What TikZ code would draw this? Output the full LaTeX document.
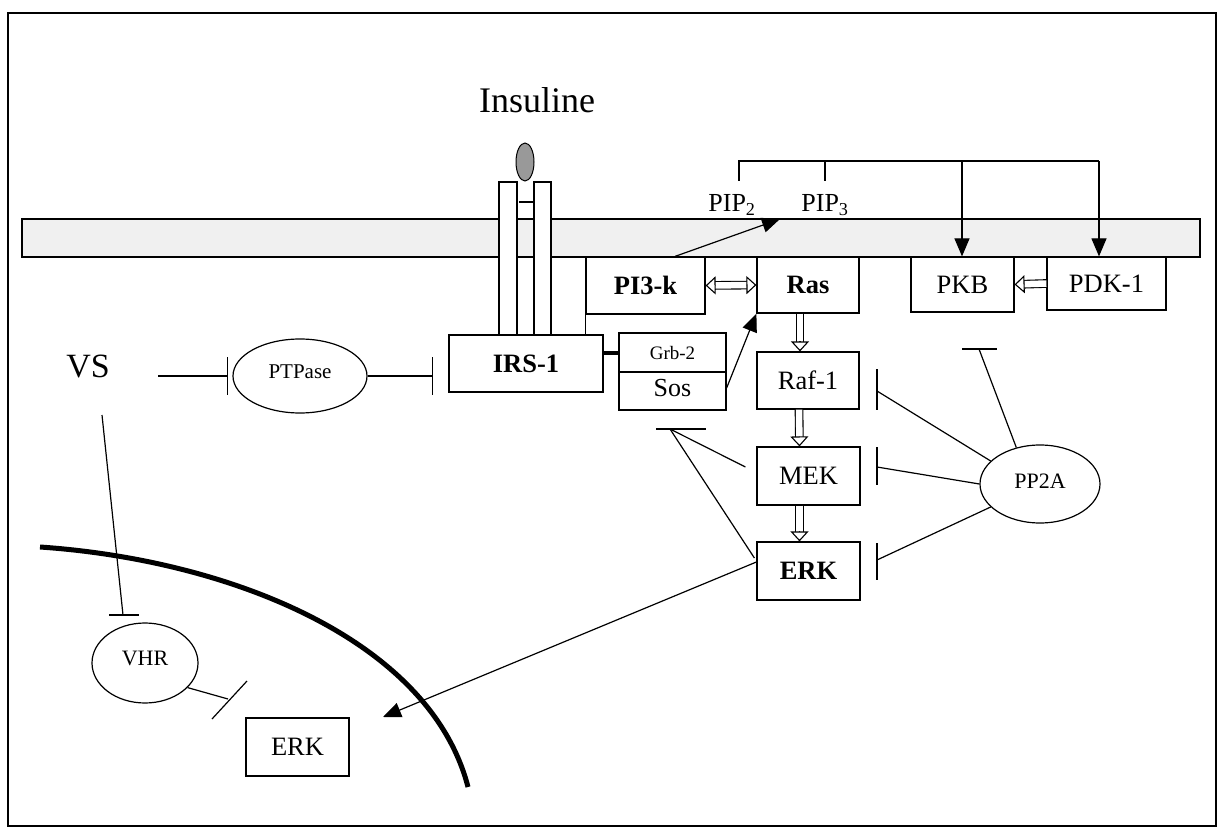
\documentclass[tikz,border=0pt]{standalone}
\usepackage{fontspec}
\setmainfont{Liberation Serif}
\usetikzlibrary{arrows.meta,shapes.geometric,calc}
\newcommand\holarr[2]{%
  \draw[line width=1.1pt, double distance=6.5pt, shorten >=9.5pt] (#1) -- (#2);
  \draw[line width=1.1pt, -{Triangle[length=10pt,width=18pt,fill=white]}] ($(#2)!10pt!(#1)$) -- (#2);}
\newcommand\holarrtwo[2]{%
  \draw[line width=1.1pt, double distance=6.5pt, shorten >=9.5pt, shorten <=9.5pt] (#1) -- (#2);
  \draw[line width=1.1pt, -{Triangle[length=10pt,width=18pt,fill=white]}] ($(#2)!10pt!(#1)$) -- (#2);
  \draw[line width=1.1pt, -{Triangle[length=10pt,width=18pt,fill=white]}] ($(#1)!10pt!(#2)$) -- (#1);}
\begin{document}
\begin{tikzpicture}[x=1pt,y=-1pt,
  box/.style={draw, line width=1.2pt, inner sep=0pt, font=\fontsize{26.5}{26.5}\selectfont},
  bbox/.style={box, font=\fontsize{26.5}{26.5}\selectfont\bfseries},
  oval/.style={draw, ellipse, line width=1.2pt, inner sep=0pt},
  ln/.style={line width=1.2pt},
  act/.style={line width=1.2pt, -{Triangle[length=18pt,width=15pt]}},
  tbar/.style={line width=1.2pt, -{Bar[width=38pt]}},
  lbl/.style={inner sep=0pt}]
\useasboundingbox (0,0) rectangle (1219,829);
% frame
\draw[line width=1.6pt] (8,13) rectangle (1216,826);
% membrane
\draw[line width=1.3pt, fill=black!6] (22,219) rectangle (1200,257);
% receptor
\draw[ln, fill=white] (499,182) rectangle (517,335);
\draw[ln, fill=white] (534,182) rectangle (551,335);
\draw[line width=1.4pt] (519,202) -- (533,202);
\node[draw, ellipse, fill=black!40, line width=1pt, minimum width=18pt, minimum height=38pt, inner sep=0pt] (ins) at (525,162) {};
\node[lbl, font=\fontsize{36}{36}\selectfont] (insl) at (537,100) {Insuline};
% boxes
\node[bbox, minimum width=154pt, minimum height=57pt] (irs) at (526,363.5) {IRS-1};
\node[bbox, minimum width=119pt, minimum height=57pt] (pi3) at (645.5,285.5) {PI3-k};
\node[bbox, minimum width=102pt, minimum height=56pt] (ras) at (808,285) {Ras};
\node[box, minimum width=102pt, minimum height=57pt] (raf) at (808,380.5) {Raf-1};
\node[box, minimum width=103pt, minimum height=58pt] (mek) at (808.5,476) {MEK};
\node[bbox, minimum width=103pt, minimum height=58pt] (erk) at (808.5,571) {ERK};
\node[box, minimum width=103pt, minimum height=55pt] (pkb) at (962.5,284.5) {PKB};
\node[box, minimum width=119pt, minimum height=53pt] (pdk) at (1106.5,283.5) {PDK-1};
\node[box, minimum width=107pt, minimum height=77pt] (grb) at (672.5,371.5) {};
\draw[ln] (grb.west |- 0,372) -- (grb.east |- 0,372);
\node[lbl, font=\fontsize{19}{19}\selectfont] (grbl) at (672.5,353) {Grb-2};
\node[lbl, font=\fontsize{26}{26}\selectfont] (sosl) at (672.5,388) {Sos};
\node[box, minimum width=103pt, minimum height=58pt] (nerk) at (297.5,747) {ERK};
% ovals
\node[oval, minimum width=134pt, minimum height=74pt, font=\fontsize{21}{21}\selectfont] (ptp) at (300,376) {\raisebox{8pt}{PTPase}};
\node[oval, minimum width=120pt, minimum height=78pt, font=\fontsize{22}{22}\selectfont] (pp2a) at (1040,484) {\raisebox{6pt}{PP2A}};
\node[oval, minimum width=106pt, minimum height=80pt, font=\fontsize{22}{22}\selectfont] (vhr) at (145,663) {\raisebox{10pt}{VHR}};
\node[lbl, font=\fontsize{34}{34}\selectfont] (vs) at (88,367) {VS};
% PIP labels
\node[lbl, font=\fontsize{26}{26}\selectfont] (pip2) at (732,205) {PIP\textsubscript{2}};
\node[lbl, font=\fontsize{26}{26}\selectfont] (pip3) at (825,205) {PIP\textsubscript{3}};
% PI3-k to IRS-1
\draw[ln] (pi3.south west) -- (pi3.south west |- irs.north);
% IRS-1 -- Grb-2
\draw[line width=3.5pt] (irs.east |- 0,353) -- (grb.west |- 0,353);
% PI3-k -> PIP
\coordinate (pipT) at (780,219);
\draw[act] ([xshift=29.5pt]pi3.north) -- (pipT);
% bracket
\coordinate (brL) at (739,161);
\coordinate (brM) at (825,161);
\coordinate (brK) at (962,161);
\coordinate (brR) at (1099,161);
\draw[ln] (739,181) -- (brL) -- (brR);
\draw[ln] (brM) -- (825,181);
\draw[act] (brK) -- (brK |- pkb.north);
\draw[act] (brR) -- (brR |- pdk.north);
% hollow arrows
\holarrtwo{pi3.east}{ras.west}
\holarr{[xshift=-8pt]ras.south}{[xshift=-8pt]raf.north}
\holarr{[xshift=-9pt]raf.south}{[xshift=-9pt]mek.north}
\holarr{[xshift=-9pt]mek.south}{[xshift=-9pt]erk.north}
\holarr{pdk.west}{pkb.east}
% Sos -> Ras
\draw[act] ([yshift=-16.5pt]grb.east) -- (ras.south west);
% PP2A inhibitions
\coordinate (pRaf) at (877,391);
\coordinate (pMek) at (877,467);
\coordinate (pErk) at (877,560);
\coordinate (pPkb) at (979,349);
\draw[ln] (pp2a.155) -- (pRaf);
\draw[ln] (pp2a.west) -- (pMek);
\draw[ln] (pp2a.205) -- (pErk);
\draw[ln] (pp2a.123) -- (pPkb);
\draw[ln] (877,369) -- (877,410);
\draw[ln] (877,447) -- (877,485);
\draw[ln] (877,543) -- (877,580);
\draw[ln] (962,349) -- (997,349);
% MEK/ERK -| Sos
\coordinate (sosB) at (670,429);
\draw[ln] (656,429) -- (706,429);
\draw[ln] ([xshift=-11pt,yshift=9pt]mek.west) -- (sosB);
\draw[ln] ([xshift=-2pt,yshift=13pt]erk.west) -- (sosB);
% ERK -> nucleus
\coordinate (nucT) at (383,717);
\draw[act] ([yshift=9pt]erk.west) -- (nucT);
% VS / PTPase
\coordinate (vsR) at (158,376);
\coordinate (ptpB) at (228,376);
\coordinate (irsB) at (433,376);
\draw[tbar] (vsR) -- (ptpB);
\draw[tbar] (ptp.east) -- (irsB);
% VS -> VHR
\coordinate (vsD) at (102,415);
\coordinate (vhrB) at (123,615);
\draw[ln] (vsD) -- (vhrB);
\draw[ln] (109,615) -- (139,615);
% VHR -| ERK
\coordinate (vhrE) at (228,699);
\draw[ln] (vhr.-30) -- (vhrE);
\draw[ln] (212,719) -- (247,681);
% nuclear envelope
\draw[line width=5pt] (40,547) .. controls (230,560) and (430,640) .. (468,787);
\end{tikzpicture}
\end{document}
